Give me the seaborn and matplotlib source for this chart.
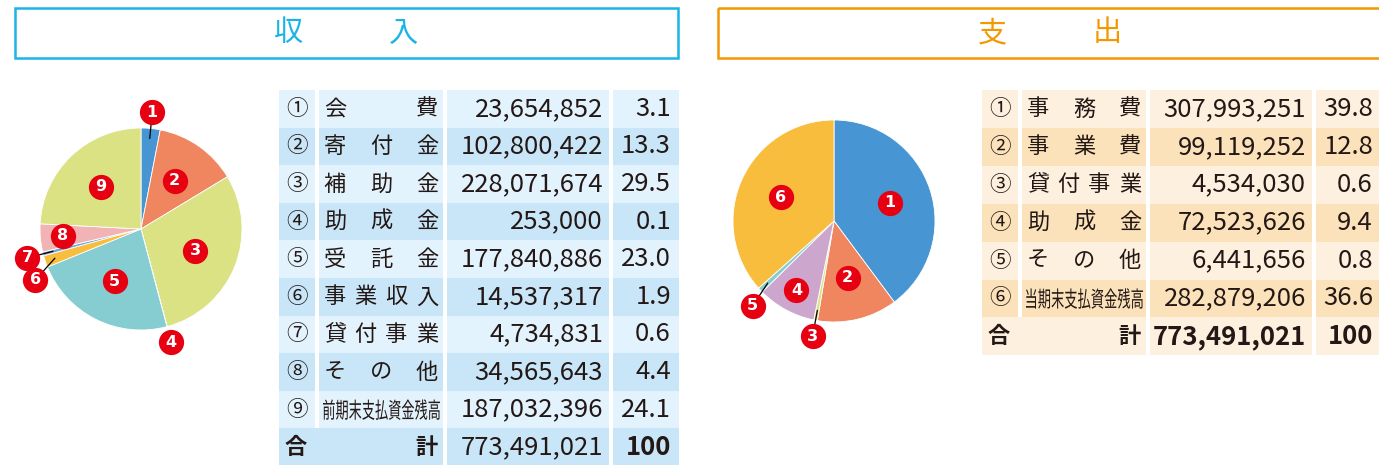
import numpy as np
import seaborn as sns
from matplotlib import pyplot as plt
from matplotlib.patches import Rectangle, PathPatch
from matplotlib.textpath import TextPath
from matplotlib.font_manager import FontProperties
from matplotlib.transforms import Affine2D

# data
inc_labels = ['会費', '寄付金', '補助金', '助成金', '受託金', '事業収入', '貸付事業', 'その他', '前期末支払資金残高']
inc_values = [23654852, 102800422, 228071674, 253000, 177840886, 14537317, 4734831, 34565643, 187032396]
inc_pcts = ['3.1', '13.3', '29.5', '0.1', '23.0', '1.9', '0.6', '4.4', '24.1']
inc_total = 773491021

exp_labels = ['事務費', '事業費', '貸付事業', '助成金', 'その他', '当期末支払資金残高']
exp_values = [307993251, 99119252, 4534030, 72523626, 6441656, 282879206]
exp_pcts = ['39.8', '12.8', '0.6', '9.4', '0.8', '36.6']
exp_total = 773491021

inc_colors = sns.color_palette(['#4795d2', '#ef8660', '#dae283', '#cda6cd', '#86cdd2',
                                '#f8bd3d', '#6fa6dc', '#f2b3b5', '#dae283'])
exp_colors = sns.color_palette(['#4795d2', '#ef8660', '#dae283', '#cda6cd', '#86cdd2', '#f8bd3d'])

TXT = '#231815'
RED = '#e60012'
W, H = 1379, 465

sns.set_theme(style='white')
plt.rcParams['font.family'] = ['Noto Sans CJK JP', 'DejaVu Sans']
JP = FontProperties(family='Noto Sans CJK JP')


def header(ax, x0, title, color):
    ax.add_patch(Rectangle((x0, 8), 663, 50, fill=False, ec=color, lw=1.8))
    cx = x0 + 331.5
    for k, ch in enumerate(title):
        ax.text(cx + (k - 0.5) * 115, 33, ch, color=color, fontsize=21,
                ha='center', va='center')


def pie(fig, cx, cy, values, colors, nudge):
    r = 101
    half = 1.3 * r
    pax = fig.add_axes([(cx - half) / W, (H - cy - half) / H, 2 * half / W, 2 * half / H])
    wedges, _ = pax.pie(values, colors=colors, startangle=90, counterclock=False,
                        wedgeprops=dict(lw=0.6, ec='white'))
    pax.set_xlim(-1.3, 1.3)
    pax.set_ylim(-1.3, 1.3)
    pax.set_aspect('equal')
    pax.axis('off')
    tot = float(sum(values))
    for i, w in enumerate(wedges):
        pct = values[i] / tot * 100
        mid = np.deg2rad((w.theta1 + w.theta2) / 2)
        if pct < 4:
            ang = mid + np.deg2rad(nudge.get(i, 0))
            rr = 1.16
            lx, ly = rr * np.cos(ang), rr * np.sin(ang)
            if pct >= 0.1:
                pax.plot([0.9 * np.cos(mid), lx], [0.9 * np.sin(mid), ly],
                         color='black', lw=0.9, zorder=3)
        else:
            rr = 0.78 if pct < 10 else 0.58
            lx, ly = rr * np.cos(mid), rr * np.sin(mid)
        pax.scatter([lx], [ly], s=330, color=RED, zorder=4, linewidths=0)
        pax.text(lx, ly, str(i + 1), color='white', fontsize=11.5, fontweight='bold',
                 family='DejaVu Sans', ha='center', va='center', zorder=5)


def squeezed(ax, s, x0, x1, yc, size=22):
    tp = TextPath((0, 0), s, size=size, prop=JP)
    b = tp.get_extents()
    sx = (x1 - x0) / b.width
    tr = Affine2D().translate(-b.x0, -(b.y0 + b.y1) / 2).scale(sx, -1).translate(x0, yc)
    ax.add_patch(PathPatch(tr.transform_path(tp), fc=TXT, ec='none', lw=0))


def table(ax, top, rowh, cols, labels, values, pcts, total, light, dark, bold_total):
    (n0, n1), (l0, l1), (v0, v1), (p0, p1) = cols
    rows = len(labels) + 1
    for i in range(rows):
        y = top + i * rowh
        yc = y + rowh / 2
        c = light if i % 2 == 0 else dark
        if i < len(labels):
            ax.add_patch(Rectangle((n0, y), n1 - n0, rowh, fc=c, ec='none'))
        else:
            ax.add_patch(Rectangle((n0, y), l1 - n0, rowh, fc=c, ec='none'))
        ax.add_patch(Rectangle((l0, y), l1 - l0, rowh, fc=c, ec='none'))
        ax.add_patch(Rectangle((v0, y), v1 - v0, rowh, fc=c, ec='none'))
        ax.add_patch(Rectangle((p0, y), p1 - p0, rowh, fc=c, ec='none'))
        if i < len(labels):
            ax.text((n0 + n1) / 2, yc, chr(0x2460 + i), fontsize=15.5, color=TXT, ha='center', va='center')
            lab = labels[i]
            if len(lab) > 4:
                squeezed(ax, lab, l0 + 4, l1 - 3, yc)
            else:
                cw = 22
                xs = np.linspace(l0 + 5 + cw / 2, l1 - 5 - cw / 2, len(lab))
                for x, ch in zip(xs, lab):
                    ax.text(x, yc, ch, fontsize=16, color=TXT, ha='center', va='center')
            ax.text(v1 - 6, yc, f'{values[i]:,}', fontsize=18.5, color=TXT, ha='right', va='center')
            ax.text(p1 - 8, yc, pcts[i], fontsize=18.5, color=TXT, ha='right', va='center')
        else:
            ax.text(n0 + 6, yc, '合', fontsize=16, fontweight='bold', color=TXT, ha='left', va='center')
            ax.text(l1 - 5, yc, '計', fontsize=16, fontweight='bold', color=TXT, ha='right', va='center')
            ax.text(v1 - 6, yc, f'{total:,}', fontsize=18.5, color=TXT, ha='right', va='center',
                    fontweight='bold' if bold_total else 'normal')
            ax.text(p1 - 8, yc, '100', fontsize=18.5, fontweight='bold', color=TXT, ha='right', va='center')


def main():
    fig = plt.figure(figsize=(W / 100, H / 100), dpi=100)
    ax = fig.add_axes([0, 0, 1, 1])
    ax.set_xlim(0, W)
    ax.set_ylim(H, 0)
    ax.axis('off')

    header(ax, 15, '収入', '#1ab4e6')
    header(ax, 718, '支出', '#f39800')

    table(ax, 90, 37.6, [(279, 315), (319, 443), (447, 609), (613, 679)],
          inc_labels, inc_values, inc_pcts, inc_total, '#e3f3fd', '#c8e6f8', False)
    table(ax, 90, 37.9, [(982, 1018), (1022, 1146), (1150, 1312), (1316, 1381)],
          exp_labels, exp_values, exp_pcts, exp_total, '#fdf0df', '#fbe2bb', True)

    pie(fig, 141, 229, inc_values, inc_colors, {5: 7})
    pie(fig, 834, 221, exp_values, exp_colors, {4: 3})

    fig.savefig('out.png', dpi=100)


if __name__ == '__main__':
    main()
